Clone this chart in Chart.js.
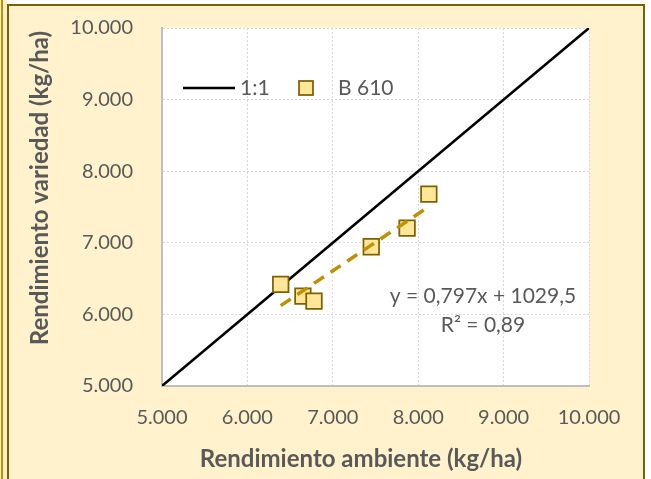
<!DOCTYPE html>
<html lang="es">
<head>
  <meta charset="UTF-8">
  <title>Rendimiento B 610</title>
  <script src="https://cdn.jsdelivr.net/npm/chart.js@4"></script>
  <style>
    body {
      margin: 0;
      background: #ffffff;
      width: 651px;
      height: 479px;
      overflow: hidden;
      position: relative;
      font-family: Lato, 'Open Sans', sans-serif;
    }
    .strip {
      position: absolute;
      left: 0;
      top: 0;
      width: 7px;
      height: 479px;
      background: #fff2cc;
    }
    .strip::before {
      content: '';
      position: absolute;
      left: 1px;
      top: 0;
      width: 2px;
      height: 100%;
      background: #bf9000;
    }
    .frame {
      position: absolute;
      left: 7px;
      top: 4px;
      width: 638px;
      height: 540px;
      box-sizing: border-box;
      border: 2px solid #7f6000;
      background: #fff2cc;
    }
    #wrap {
      position: absolute;
      left: 0;
      top: 0;
      width: 651px;
      height: 479px;
    }
  </style>
</head>
<body>
  <div class="strip"></div>
  <div class="frame"></div>
  <div id="wrap"><canvas id="chart"></canvas></div>

  <script>
    // rendimiento por ambiente vs rendimiento de la variedad (kg/ha)
    const ambiente = [6390, 6650, 6780, 7450, 7870, 8125];
    const variedad = [6420, 6255, 6185, 6945, 7205, 7680];
    const axisTicks = [5000, 6000, 7000, 8000, 9000, 10000];
    const lineaUno = [5000, 10000];

    // tendencia lineal publicada: y = 0,797x + 1029,5 ; R² = 0,89
    const pendiente = 0.797;
    const intercepto = 1029.5;
    const r2 = 0.89;

    const textColor = '#595959';
    const fontFamily = "Lato, 'Open Sans', sans-serif";

    const fmt = v => {
      const s = String(Math.round(v));
      return s.replace(/\B(?=(\d{3})+(?!\d))/g, '.');
    };
    const fmtDec = v => String(v).replace('.', ',');

    const puntos = ambiente.map((x, i) => ({ x: x, y: variedad[i] }));
    const xMin = Math.min(...ambiente);
    const xMax = Math.max(...ambiente);
    const tendencia = [xMin, xMax].map(x => ({ x: x, y: pendiente * x + intercepto }));

    // axis titles, legend and trendline label
    const extras = {
      id: 'extras',
      beforeDraw(chart) {
        const { ctx, chartArea: a } = chart;
        ctx.save();
        ctx.fillStyle = '#ffffff';
        ctx.fillRect(a.left, a.top, a.right - a.left, a.bottom - a.top);
        ctx.restore();
      },
      afterDraw(chart) {
        const { ctx } = chart;
        const sets = chart.data.datasets;
        ctx.save();
        ctx.fillStyle = textColor;

        // axis titles
        ctx.font = 'bold 24px ' + fontFamily;
        ctx.textAlign = 'center';
        ctx.textBaseline = 'middle';
        ctx.fillText('Rendimiento ambiente (kg/ha)', 361, 459);
        ctx.save();
        ctx.translate(40, 188);
        ctx.rotate(-Math.PI / 2);
        ctx.fillText('Rendimiento variedad (kg/ha)', 0, 0);
        ctx.restore();

        // legend
        const ly = 88;
        ctx.strokeStyle = sets[0].borderColor;
        ctx.lineWidth = sets[0].borderWidth;
        ctx.beginPath();
        ctx.moveTo(183, ly);
        ctx.lineTo(235, ly);
        ctx.stroke();
        ctx.fillStyle = sets[1].backgroundColor;
        ctx.strokeStyle = sets[1].borderColor;
        ctx.lineWidth = sets[1].borderWidth;
        ctx.fillRect(299, ly - 7, 14, 14);
        ctx.strokeRect(299, ly - 7, 14, 14);

        ctx.fillStyle = textColor;
        ctx.font = '21px ' + fontFamily;
        ctx.textAlign = 'left';
        ctx.fillText(sets[0].label, 240, ly);
        ctx.fillText(sets[1].label, 338, ly);

        // trendline equation
        ctx.textAlign = 'center';
        ctx.fillText('y = ' + fmtDec(pendiente) + 'x + ' + fmtDec(intercepto), 483, 296);
        ctx.fillText('R² = ' + fmtDec(r2), 483, 325);
        ctx.restore();
      }
    };

    const scaleBase = {
      type: 'linear',
      min: 5000,
      max: 10000,
      afterBuildTicks: s => { s.ticks = axisTicks.map(v => ({ value: v })); },
      ticks: {
        color: textColor,
        font: { family: fontFamily, size: 20 },
        padding: 0,
        callback: v => fmt(v)
      },
      grid: {
        color: '#d9d9d9',
        lineWidth: 1,
        tickColor: 'rgba(0,0,0,0)'
      },
      border: {
        display: true,
        color: '#bfbfbf',
        width: 2,
        dash: [2, 2]
      }
    };

    new Chart(document.getElementById('chart'), {
      type: 'scatter',
      data: {
        datasets: [
          {
            label: '1:1',
            type: 'line',
            data: lineaUno.map(v => ({ x: v, y: v })),
            borderColor: '#000000',
            borderWidth: 2.5,
            pointRadius: 0,
            order: 3
          },
          {
            label: 'B 610',
            data: puntos,
            pointStyle: 'rect',
            pointRadius: 11,
            backgroundColor: '#ffe699',
            borderColor: '#7f6000',
            borderWidth: 1.75,
            order: 2
          },
          {
            label: 'Lineal (B 610)',
            type: 'line',
            data: tendencia,
            borderColor: '#bf9000',
            borderWidth: 3.5,
            borderDash: [12, 8],
            pointRadius: 0,
            order: 1
          }
        ]
      },
      options: {
        responsive: true,
        maintainAspectRatio: false,
        animation: false,
        layout: { padding: { top: 28, right: 62, left: 0, bottom: 0 } },
        plugins: {
          legend: { display: false },
          tooltip: { enabled: false }
        },
        scales: {
          x: Object.assign({}, scaleBase, {
            position: 'bottom',
            grid: Object.assign({}, scaleBase.grid, { tickLength: 20 }),
            ticks: Object.assign({}, scaleBase.ticks, { maxRotation: 0 }),
            afterFit: s => { s.height = 93; }
          }),
          y: Object.assign({}, scaleBase, {
            position: 'left',
            grid: Object.assign({}, scaleBase.grid, { tickLength: 29 }),
            afterFit: s => { s.width = 162; }
          })
        }
      },
      plugins: [extras]
    });
  </script>
</body>
</html>
